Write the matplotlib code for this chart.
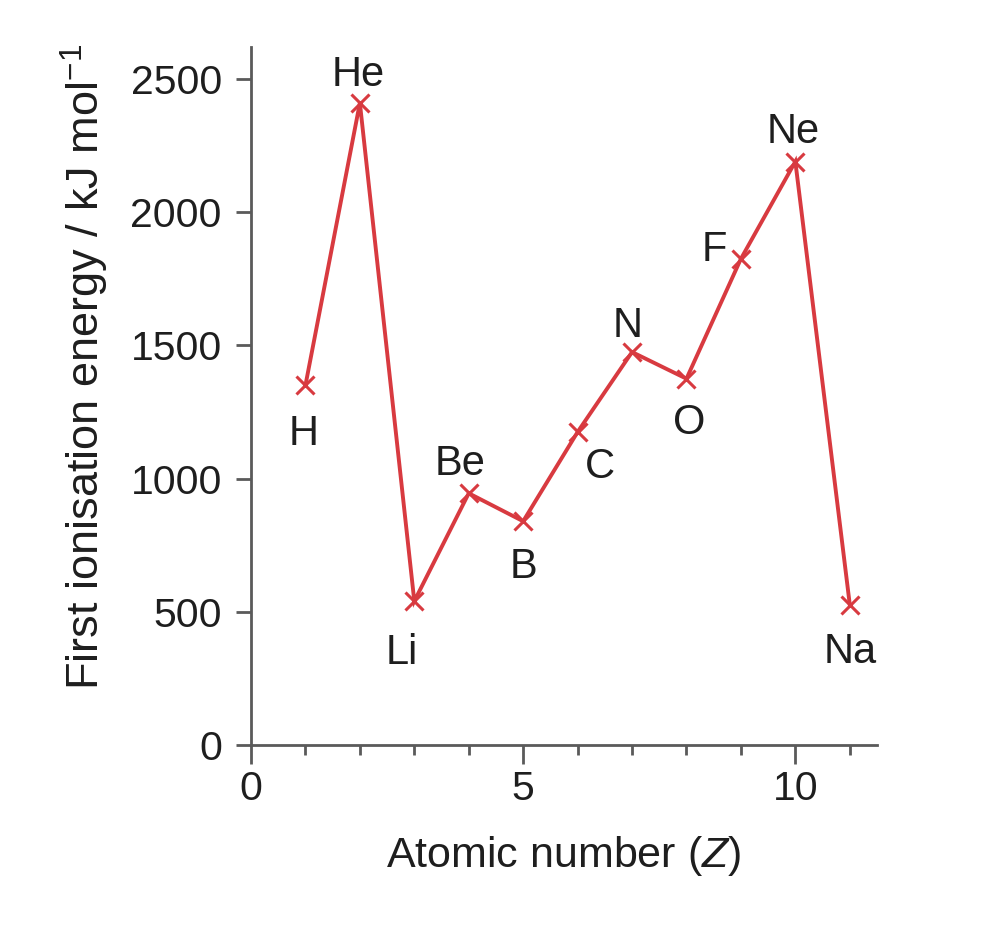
import matplotlib
matplotlib.use("Agg")
import matplotlib.pyplot as plt
from matplotlib.ticker import MultipleLocator

elements = ["H", "He", "Li", "Be", "B", "C", "N", "O", "F", "Ne", "Na"]
atomic_number = [1, 2, 3, 4, 5, 6, 7, 8, 9, 10, 11]
ionisation_energy = [1350, 2410, 540, 945, 840, 1175, 1475, 1375, 1825, 2190, 527]
x_ticks = [0, 5, 10]
y_ticks = [0, 500, 1000, 1500, 2000, 2500]

# label offsets in points (dx, dy of visual text centre)
label_offsets = {
    "H": (-1.5, -32), "He": (-1, 23), "Li": (-9, -34), "Be": (-6, 24),
    "B": (0, -30), "C": (16, -22), "N": (-3, 22), "O": (2, -29),
    "F": (-19, 9), "Ne": (-1.5, 24), "Na": (0.5, -31),
}

main_font = "Liberation Sans"
plt.rcParams['font.family'] = [main_font, 'DejaVu Sans']
plt.rcParams['mathtext.fontset'] = 'custom'
plt.rcParams['mathtext.rm'] = main_font
plt.rcParams['mathtext.it'] = main_font + ':italic'

FS_TICK = 29.5
FS_ELEM = 30
FS_XLAB = 31
FS_YLAB = 32.5
text_color = "#1e1e1e"
red = "#d83a40"
axis_color = "#5a5a5a"

fig = plt.figure(figsize=(10, 9.4), dpi=100)
ax = fig.add_axes([0.251, 0.2074, 0.626, 0.7426])

ax.plot(atomic_number, ionisation_energy, color=red, lw=2.8, marker="x",
        markersize=13, markeredgewidth=2.2, solid_joinstyle="miter")

half_cap = 0.729 * FS_ELEM / 2
for el, x, y in zip(elements, atomic_number, ionisation_energy):
    dx, dy = label_offsets[el]
    ax.annotate(el, (x, y), xytext=(dx, dy - half_cap), textcoords="offset points",
                ha="center", va="baseline", fontsize=FS_ELEM, color=text_color)

ax.set_xlim(0, 11.5)
ax.set_ylim(0, 2620)
ax.set_xticks(x_ticks)
ax.set_yticks(y_ticks)
ax.xaxis.set_minor_locator(MultipleLocator(1))

for s in ["top", "right"]:
    ax.spines[s].set_visible(False)
for s in ["left", "bottom"]:
    ax.spines[s].set_color(axis_color)
    ax.spines[s].set_linewidth(2.0)

ax.tick_params(axis="y", which="major", direction="out", length=11, width=2,
               color=axis_color, labelsize=FS_TICK, labelcolor=text_color, pad=10)
ax.tick_params(axis="x", which="major", direction="out", length=14, width=2,
               color=axis_color, labelsize=FS_TICK, labelcolor=text_color, pad=4)
ax.tick_params(axis="x", which="minor", direction="out", length=7, width=2,
               color=axis_color)

ax.set_xlabel("Atomic number ($\\mathit{Z}$)", fontsize=FS_XLAB, color=text_color)
ax.set_ylabel("First ionisation energy / kJ mol$^{-1}$", fontsize=FS_YLAB,
              color=text_color)
ax.xaxis.set_label_coords(0.5, -0.1275)
ax.yaxis.set_label_coords(-0.2244, 0.5415)

fig.savefig("out.png", dpi=100, facecolor="white")
